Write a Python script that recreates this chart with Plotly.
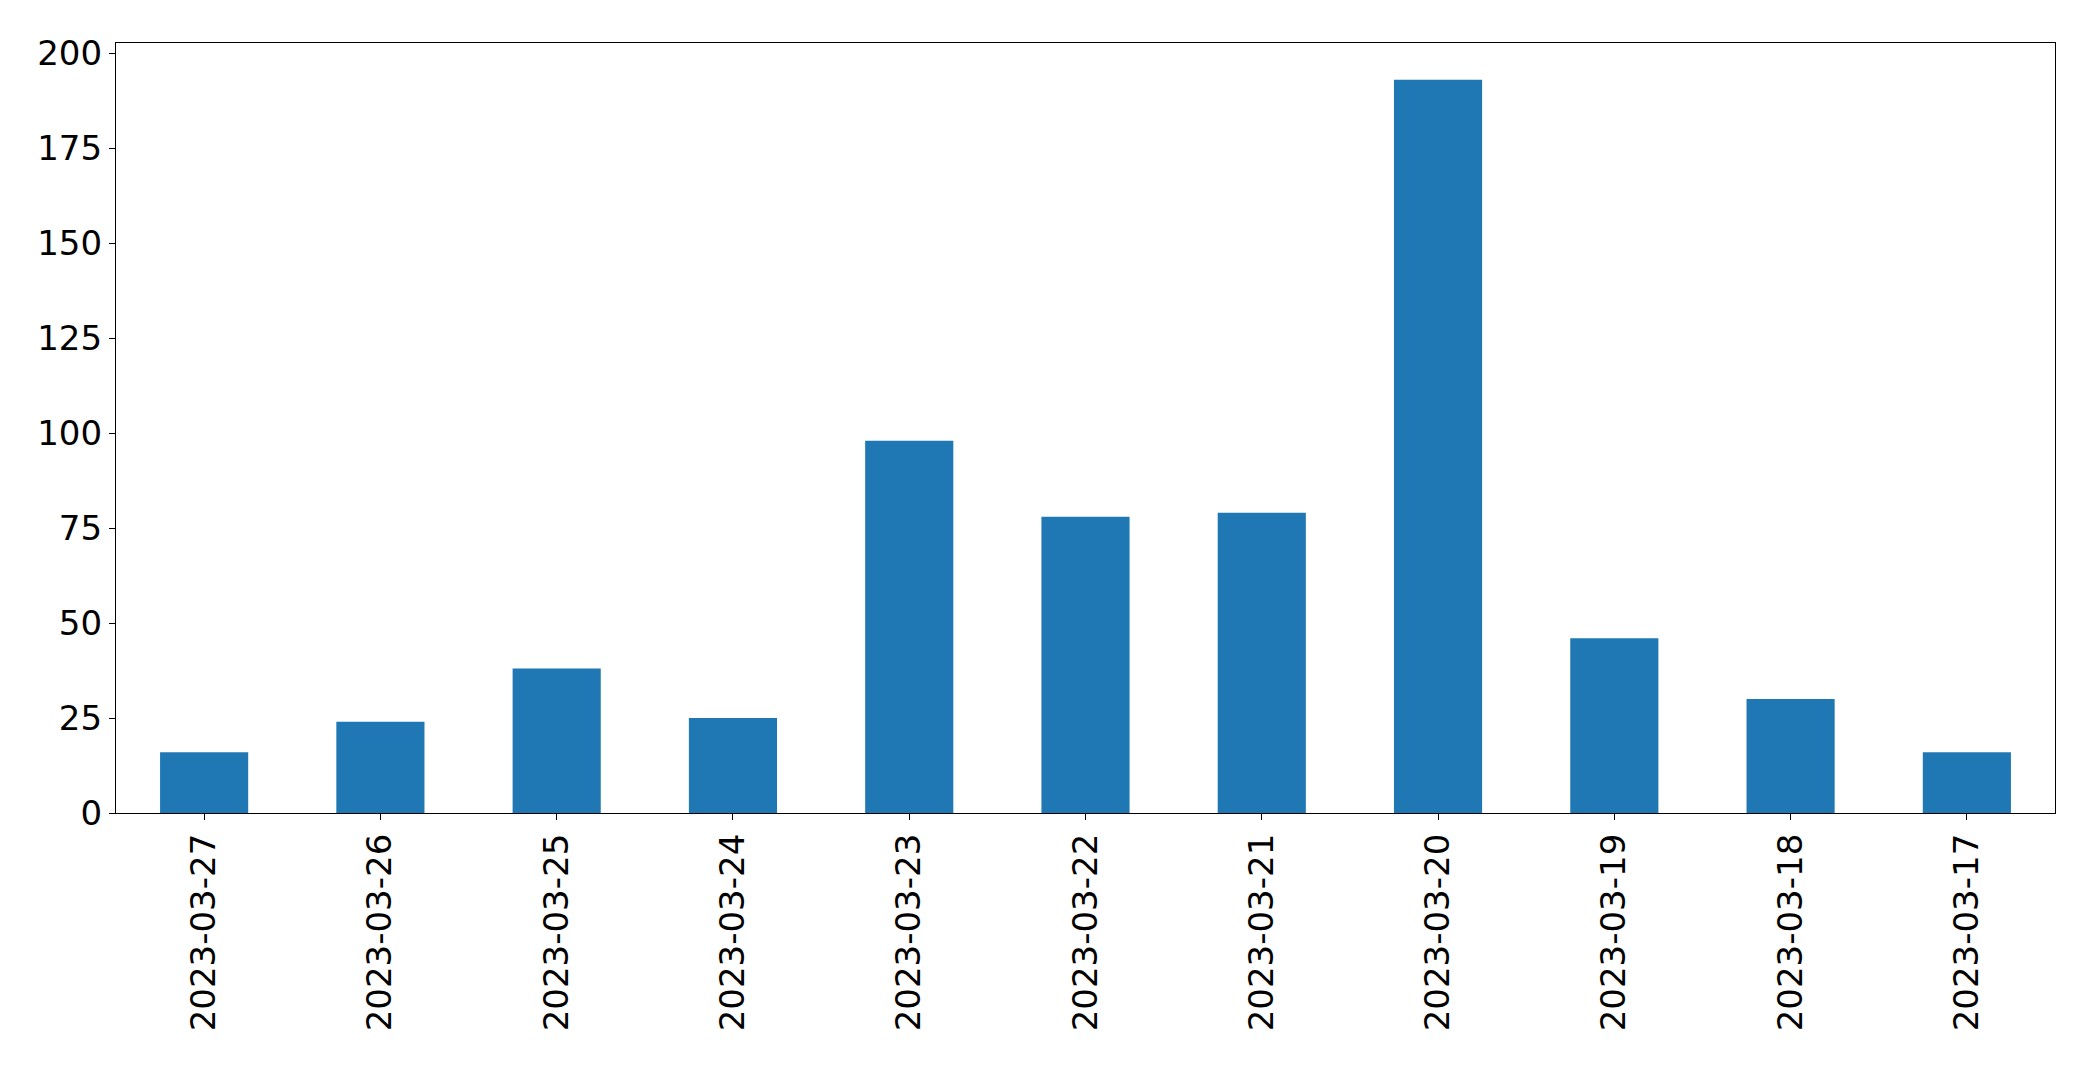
import plotly.graph_objects as go

dates = ["2023-03-27", "2023-03-26", "2023-03-25", "2023-03-24", "2023-03-23",
         "2023-03-22", "2023-03-21", "2023-03-20", "2023-03-19", "2023-03-18", "2023-03-17"]
counts = [16, 24, 38, 25, 98, 78, 79, 193, 46, 30, 16]
y_ticks = [0, 25, 50, 75, 100, 125, 150, 175, 200]

fig = go.Figure(go.Bar(x=dates, y=counts, width=0.5, marker=dict(color="#1f77b4", line=dict(width=0))))

font = dict(family="DejaVu Sans", size=34, color="black")
fig.update_layout(
    width=2093, height=1065,
    margin=dict(l=116, r=38, t=43, b=252),
    paper_bgcolor="white", plot_bgcolor="white",
    showlegend=False,
    font=font,
)
fig.update_xaxes(
    type="category", range=[-0.5, len(dates) - 0.5],
    showline=True, linecolor="black", linewidth=1.3, mirror=True,
    ticks="outside", ticklen=6, tickwidth=1.3, tickcolor="black",
    tickangle=-90, tickfont=font, showgrid=False, zeroline=False,
)
fig.update_yaxes(
    range=[0, max(counts) * 1.05],
    tickvals=y_ticks, ticktext=[str(v) for v in y_ticks],
    showline=True, linecolor="black", linewidth=1.3, mirror=True,
    ticks="outside", ticklen=6, tickwidth=1.3, tickcolor="black",
    tickfont=font, showgrid=False, zeroline=False,
)
fig.write_html(
    "out.html",
    config={"displayModeBar": False},
    post_script="document.body.style.margin='0';document.body.style.overflow='hidden';",
)
